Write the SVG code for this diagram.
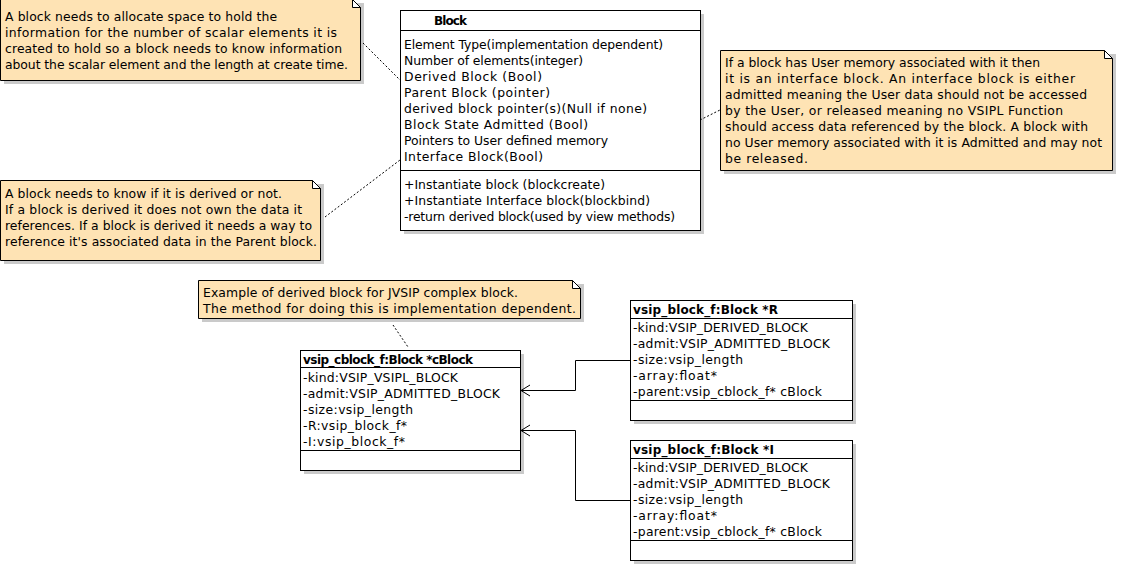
<svg xmlns="http://www.w3.org/2000/svg" width="1125" height="565" viewBox="0 0 1125 565">
<style>
text{font-family:"DejaVu Sans","Liberation Sans",sans-serif;font-size:12.4px;fill:#000}
.b{font-weight:bold;font-size:12px}
.note{fill:#FEE3B4;stroke:#000;stroke-width:1}
.fold{fill:#fff;stroke:#000;stroke-width:1}
.sh{fill:#CACACA}
.box{fill:#fff;stroke:#000;stroke-width:1}
.ln{stroke:#000;stroke-width:1;fill:none}
.dash{stroke:#000;stroke-width:1;fill:none;stroke-dasharray:2,2}
</style>
<defs>
<marker id="open" markerWidth="12" markerHeight="13" refX="10" refY="6" orient="auto" markerUnits="userSpaceOnUse">
<path d="M1,0.5 L10,6 L1,11.5" fill="none" stroke="#000" stroke-width="1"/>
</marker>
</defs>

<g id="note1">
<rect class="sh" x="4" y="3" width="360" height="81"/>
<path class="note" d="M0.5,-0.5 H352.5 L360.5,7.5 V80.5 H0.5 Z"/>
<path class="fold" d="M352.5,-0.5 V7.5 H360.5 Z"/>
<text x="5" y="21" textLength="272">A block needs to allocate space to hold the</text>
<text x="5" y="37" textLength="332">information for the number of scalar elements it is</text>
<text x="5" y="53" textLength="337">created to hold so a block needs to know information</text>
<text x="5" y="69" textLength="343">about the scalar element and the length at create time.</text>
</g>

<g id="block">
<rect class="sh" x="404" y="14" width="300" height="220"/>
<rect class="box" x="400.5" y="10.5" width="300" height="220"/>
<line class="ln" x1="400.5" y1="30.5" x2="700.5" y2="30.5"/>
<line class="ln" x1="400.5" y1="170.5" x2="700.5" y2="170.5"/>
<text class="b" x="434" y="25" textLength="33">Block</text>
<text x="404" y="48.5" textLength="259">Element Type(implementation dependent)</text>
<text x="404" y="64.5" textLength="179">Number of elements(integer)</text>
<text x="404" y="80.5" textLength="138">Derived Block (Bool)</text>
<text x="404" y="96.5" textLength="146">Parent Block (pointer)</text>
<text x="404" y="112.5" textLength="243">derived block pointer(s)(Null if none)</text>
<text x="404" y="128.5" textLength="184">Block State Admitted (Bool)</text>
<text x="404" y="144.5" textLength="204">Pointers to User defined memory</text>
<text x="404" y="160.5" textLength="139">Interface Block(Bool)</text>
<text x="404" y="188.5" textLength="201">+Instantiate block (blockcreate)</text>
<text x="404" y="204.5" textLength="246">+Instantiate Interface block(blockbind)</text>
<text x="404" y="220.5" textLength="271">-return derived block(used by view methods)</text>
</g>

<g id="note3">
<rect class="sh" x="724" y="54" width="392" height="120"/>
<path class="note" d="M720.5,50.5 H1104.5 L1112.5,58.5 V170.5 H720.5 Z"/>
<path class="fold" d="M1104.5,50.5 V58.5 H1112.5 Z"/>
<text x="725" y="66.5" textLength="315">If a block has User memory associated with it then</text>
<text x="725" y="82.5" textLength="350">it is an interface block. An interface block is either</text>
<text x="725" y="98.5" textLength="362">admitted meaning the User data should not be accessed</text>
<text x="725" y="114.5" textLength="338">by the User, or released meaning no VSIPL Function</text>
<text x="725" y="130.5" textLength="363">should access data referenced by the block. A block with</text>
<text x="725" y="146.5" textLength="377">no User memory associated with it is Admitted and may not</text>
<text x="725" y="162.5" textLength="83">be released.</text>
</g>

<g id="note4">
<rect class="sh" x="4" y="184" width="320" height="80"/>
<path class="note" d="M0.5,180.5 H312.5 L320.5,188.5 V260.5 H0.5 Z"/>
<path class="fold" d="M312.5,180.5 V188.5 H320.5 Z"/>
<text x="5" y="197.5" textLength="277">A block needs to know if it is derived or not.</text>
<text x="5" y="213.5" textLength="297">If a block is derived it does not own the data it</text>
<text x="5" y="229.5" textLength="307">references. If a block is derived it needs a way to</text>
<text x="5" y="245.5" textLength="312">reference it's associated data in the Parent block.</text>
</g>

<g id="note5">
<rect class="sh" x="202" y="284" width="382" height="38"/>
<path class="note" d="M198.5,280.5 H572.5 L580.5,288.5 V318.5 H198.5 Z"/>
<path class="fold" d="M572.5,280.5 V288.5 H580.5 Z"/>
<text x="203" y="296.5" textLength="315">Example of derived block for JVSIP complex block.</text>
<text x="203" y="312.5" textLength="373">The method for doing this is implementation dependent.</text>
</g>

<g id="cblock">
<rect class="sh" x="304" y="354" width="220" height="120"/>
<rect class="box" x="300.5" y="350.5" width="220" height="120"/>
<line class="ln" x1="300.5" y1="367.5" x2="520.5" y2="367.5"/>
<line class="ln" x1="300.5" y1="450.5" x2="520.5" y2="450.5"/>
<text class="b" x="303" y="364" textLength="170">vsip_cblock_f:Block *cBlock</text>
<text x="303" y="381.5" textLength="155">-kind:VSIP_VSIPL_BLOCK</text>
<text x="303" y="397.5" textLength="197">-admit:VSIP_ADMITTED_BLOCK</text>
<text x="303" y="413.5" textLength="110">-size:vsip_length</text>
<text x="303" y="429.5" textLength="104">-R:vsip_block_f*</text>
<text x="303" y="445.5" textLength="102">-I:vsip_block_f*</text>
</g>

<g id="blockR">
<rect class="sh" x="634" y="304" width="222" height="120"/>
<rect class="box" x="630.5" y="300.5" width="222" height="120"/>
<line class="ln" x1="630.5" y1="318.5" x2="852.5" y2="318.5"/>
<line class="ln" x1="630.5" y1="400.5" x2="852.5" y2="400.5"/>
<text class="b" x="633" y="314" textLength="145">vsip_block_f:Block *R</text>
<text x="633" y="332" textLength="175">-kind:VSIP_DERIVED_BLOCK</text>
<text x="633" y="348" textLength="197">-admit:VSIP_ADMITTED_BLOCK</text>
<text x="633" y="364" textLength="110">-size:vsip_length</text>
<text x="633" y="380" textLength="84">-array:float*</text>
<text x="633" y="396" textLength="189">-parent:vsip_cblock_f* cBlock</text>
</g>

<g id="blockI">
<rect class="sh" x="634" y="444" width="222" height="120"/>
<rect class="box" x="630.5" y="440.5" width="222" height="120"/>
<line class="ln" x1="630.5" y1="458.5" x2="852.5" y2="458.5"/>
<line class="ln" x1="630.5" y1="540.5" x2="852.5" y2="540.5"/>
<text class="b" x="633" y="454" textLength="141">vsip_block_f:Block *I</text>
<text x="633" y="472" textLength="175">-kind:VSIP_DERIVED_BLOCK</text>
<text x="633" y="488" textLength="197">-admit:VSIP_ADMITTED_BLOCK</text>
<text x="633" y="504" textLength="110">-size:vsip_length</text>
<text x="633" y="520" textLength="84">-array:float*</text>
<text x="633" y="536" textLength="189">-parent:vsip_cblock_f* cBlock</text>
</g>

<g id="connectors">
<line class="dash" x1="363" y1="43" x2="400" y2="80"/>
<line class="dash" x1="325" y1="217" x2="400" y2="160"/>
<line class="dash" x1="700" y1="120" x2="720" y2="110"/>
<line class="dash" x1="393" y1="325" x2="408" y2="347"/>
<path class="ln" d="M630.5,360.5 H575.5 V390.5 H521" marker-end="url(#open)"/>
<path class="ln" d="M630.5,500.5 H575.5 V430.5 H521" marker-end="url(#open)"/>
</g>
</svg>
